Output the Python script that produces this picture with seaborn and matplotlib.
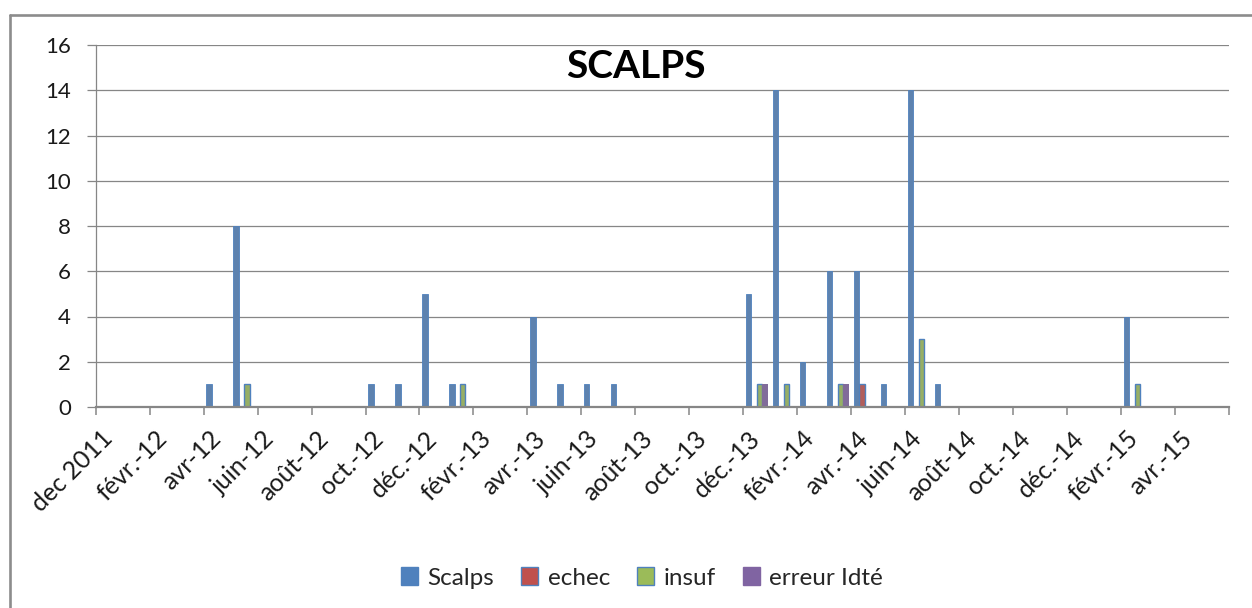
import numpy as np
import pandas as pd
import matplotlib
matplotlib.use("Agg")
import matplotlib.pyplot as plt
from matplotlib.patches import Patch
from matplotlib.lines import Line2D
import seaborn as sns

# ---- data ----
mois = list(pd.period_range("2011-12", "2015-05", freq="M").astype(str))  # 42 months
series = ["Scalps", "echec", "insuf", "erreur Idté"]

#            dec11
scalps = [0,
          # 2012: jan feb mar apr may jun jul aug sep oct nov dec
          0, 0, 0, 1, 8, 0, 0, 0, 0, 1, 1, 5,
          # 2013
          1, 0, 0, 4, 1, 1, 1, 0, 0, 0, 0, 5,
          # 2014
          14, 2, 6, 6, 1, 14, 1, 0, 0, 0, 0, 0,
          # 2015: jan feb mar apr may
          0, 4, 0, 0, 0]
echec = [0,
         0, 0, 0, 0, 0, 0, 0, 0, 0, 0, 0, 0,
         0, 0, 0, 0, 0, 0, 0, 0, 0, 0, 0, 0,
         0, 0, 0, 1, 0, 0, 0, 0, 0, 0, 0, 0,
         0, 0, 0, 0, 0]
insuf = [0,
         0, 0, 0, 0, 1, 0, 0, 0, 0, 0, 0, 0,
         1, 0, 0, 0, 0, 0, 0, 0, 0, 0, 0, 1,
         1, 0, 1, 0, 0, 3, 0, 0, 0, 0, 0, 0,
         0, 1, 0, 0, 0]
erreur = [0,
          0, 0, 0, 0, 0, 0, 0, 0, 0, 0, 0, 0,
          0, 0, 0, 0, 0, 0, 0, 0, 0, 0, 0, 1,
          0, 0, 1, 0, 0, 0, 0, 0, 0, 0, 0, 0,
          0, 0, 0, 0, 0]

tick_labels = ["dec 2011", "févr.-12", "avr-12", "juin-12", "août-12", "oct.-12",
               "déc.-12", "févr.-13", "avr.-13", "juin-13", "août-13", "oct.-13",
               "déc.-13", "févr.-14", "avr.-14", "juin-14", "août-14", "oct.-14",
               "déc.-14", "févr.-15", "avr.-15"]
y_ticks = [0, 2, 4, 6, 8, 10, 12, 14, 16]

colors = ["#4F81BD", "#C0504D", "#9BBB59", "#8064A2"]
palette = dict(zip(series, colors))

df = pd.DataFrame({
    "mois": mois * 4,
    "serie": np.repeat(series, len(mois)),
    "valeur": scalps + echec + insuf + erreur,
})

# ---- style ----
sns.set_theme(style="white")
plt.rcParams["font.family"] = ["Lato", "DejaVu Sans"]
GRAY = "#868686"

fig = plt.figure(figsize=(12.52, 6.08), dpi=100)
ax = fig.add_axes([95.7 / 1252, 1 - 407 / 608, (1229 - 95.7) / 1252, (407 - 45) / 608])

sns.barplot(data=df, x="mois", y="valeur", hue="serie", order=mois, hue_order=series,
            palette=palette, width=0.8, dodge=True, errorbar=None, linewidth=0,
            legend=False, ax=ax)

for cont, s in zip(ax.containers, series):
    for bar in cont:
        if bar.get_height() <= 0:
            bar.set_visible(False)
            continue
        if s in ("echec", "insuf"):
            bar.set_edgecolor("#4F81BD")
            bar.set_linewidth(1.0)
        elif s == "Scalps":
            bar.set_edgecolor("#4F81BD")
            bar.set_linewidth(0.6)

ax.set_xlim(-0.5, len(mois) - 0.5)
ax.set_ylim(0, 16)
ax.set_yticks(y_ticks)
ax.set_yticklabels([str(v) for v in y_ticks], fontsize=16, color="#1a1a1a")
ax.set_xlabel("")
ax.set_ylabel("")

# major ticks at 2-month boundaries, labels at the labelled month
bounds = np.arange(-0.5, len(mois), 2)
label_pos = np.arange(0, len(mois), 2)
ax.set_xticks(bounds)
ax.set_xticklabels([""] * len(bounds))
ax.set_xticks(label_pos, minor=True)
ax.set_xticklabels(tick_labels, minor=True, rotation=45, ha="right", va="center",
                   rotation_mode="anchor", fontsize=18, color="#1a1a1a")
ax.tick_params(axis="x", which="major", direction="out", length=5.5, width=1.1,
               color=GRAY, bottom=True)
ax.tick_params(axis="x", which="minor", length=0, pad=20, bottom=True)
ax.tick_params(axis="y", direction="out", length=6.8, width=0.9, color=GRAY,
               pad=11, left=True)

ax.yaxis.grid(True, color=GRAY, linewidth=0.9)
ax.xaxis.grid(False)
ax.set_axisbelow(True)
for side in ("top", "right"):
    ax.spines[side].set_visible(False)
ax.spines["left"].set_color(GRAY)
ax.spines["left"].set_linewidth(0.9)
ax.spines["bottom"].set_color(GRAY)
ax.spines["bottom"].set_linewidth(1.6)

# title
fig.text(636 / 1252, 1 - 66 / 608, "SCALPS", ha="center", va="center",
         fontsize=28, fontweight="bold", color="black")

# legend
handles = [Patch(facecolor=palette["Scalps"], edgecolor=palette["Scalps"]),
           Patch(facecolor=palette["echec"], edgecolor="#4F81BD", linewidth=1.0),
           Patch(facecolor=palette["insuf"], edgecolor="#4F81BD", linewidth=1.0),
           Patch(facecolor=palette["erreur Idté"], edgecolor=palette["erreur Idté"])]
fig.legend(handles, series, loc="center", bbox_to_anchor=(642 / 1252, 1 - 578 / 608),
           ncol=4, frameon=False, fontsize=17.5, handlelength=0.7, handleheight=0.7,
           handletextpad=0.4, columnspacing=1.1)

# outer chart frame
fx = 10 / 1252
fy = 1 - 15 / 608
fig.add_artist(Line2D([fx, fx], [0, fy], transform=fig.transFigure, color="#8c8c8c", lw=1.9))
fig.add_artist(Line2D([fx, 1], [fy, fy], transform=fig.transFigure, color="#8c8c8c", lw=1.9))

fig.savefig("out.png", dpi=100, facecolor="white")
